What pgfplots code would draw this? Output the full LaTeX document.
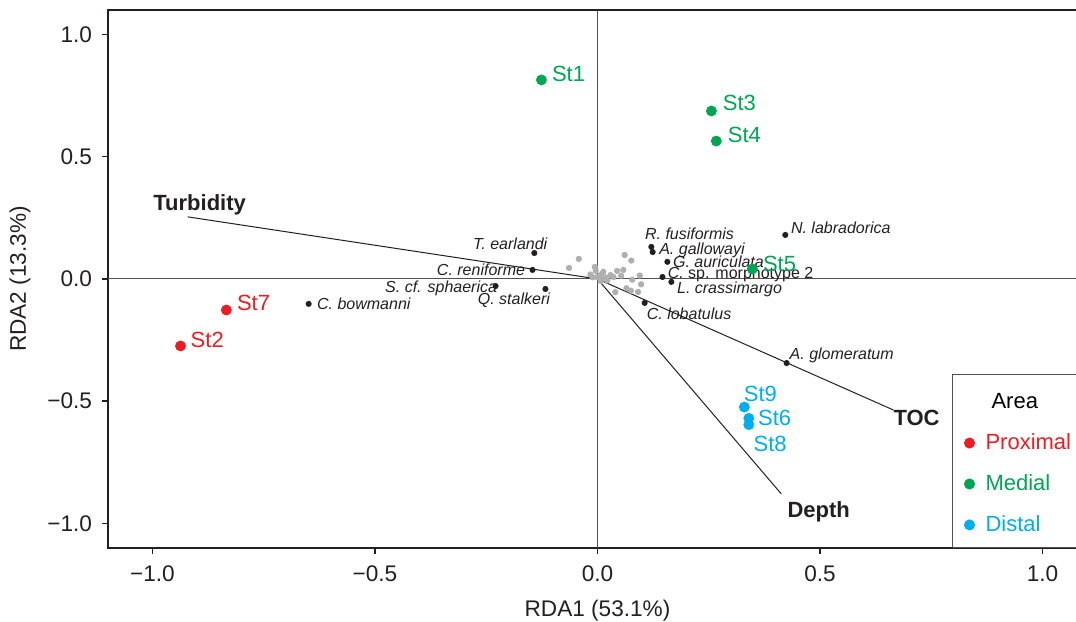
\documentclass[border=0pt]{standalone}
\usepackage{fontspec}
\setmainfont{Liberation Sans}
\usepackage{pgfplots}
\pgfplotsset{compat=1.18}
\definecolor{cRed}{RGB}{237,28,36}
\definecolor{cGreen}{RGB}{0,166,81}
\definecolor{cBlue}{RGB}{0,174,239}
\definecolor{cDark}{RGB}{35,31,32}
\definecolor{cGray}{RGB}{175,175,175}
\definecolor{cLine}{RGB}{80,80,80}
\tikzset{
  stl/.style={font=\fontsize{11}{13}\selectfont, inner sep=0pt, text height=7.9pt, text depth=0pt, anchor=west},
  spl/.style={font=\fontsize{8}{9.6}\selectfont\itshape, inner sep=0pt, text height=5.75pt, text depth=0pt, text=cDark},
  vecl/.style={font=\fontsize{11}{13}\selectfont\bfseries, inner sep=0pt, text height=7.9pt, text depth=0pt, text=cDark, anchor=center},
}
\begin{document}
\begin{tikzpicture}
\begin{axis}[
  name=ax,
  scale only axis,
  width=489.5pt, height=268.95pt,
  xmin=-1.1, xmax=1.1, ymin=-1.1, ymax=1.1,
  xtick={-1,-0.5,0,0.5,1}, ytick={-1,-0.5,0,0.5,1},
  xticklabels={−1.0,−0.5,0.0,0.5,1.0},
  yticklabels={−1.0,−0.5,0.0,0.5,1.0},
  xtick pos=bottom, ytick pos=left,
  tick align=outside, major tick length=3pt,
  tick style={cDark, line width=0.75pt},
  axis line style={cDark, line width=0.75pt},
  ticklabel style={font=\fontsize{11.3}{13}\selectfont, text=cDark},
  xticklabel shift=2.5pt, yticklabel shift=1.5pt,
  xlabel={RDA1 (53.1\%)}, ylabel={RDA2 (13.3\%)},
  xlabel shift=2pt, ylabel shift=1.5pt,
  label style={font=\fontsize{11.3}{13}\selectfont, text=cDark},
  clip=false,
  legend cell align=left,
  legend style={at={(axis cs:0.7955,-1.1)}, anchor=south west, draw=cLine, line width=0.5pt, fill=white,
    font=\fontsize{11}{13}\selectfont, row sep=7pt, inner xsep=6pt, inner ysep=4.5pt},
  legend image code/.code={\fill[#1] (2.5pt,0pt) circle (2.5pt); \path[draw=none, fill=none] (8.5pt,0pt) circle (0.01pt);},
]
% zero lines
\addplot[cLine, line width=0.5pt, forget plot] coordinates {(-1.1,0) (1.1,0)};
\addplot[cLine, line width=0.5pt, forget plot] coordinates {(0,-1.1) (0,1.1)};
% gray species points
\addplot[only marks, mark=*, mark size=1.35pt, cGray, forget plot] coordinates {
(-0.042,0.082) (-0.064,0.045) (-0.006,0.049) (-0.016,0.018) (0.013,0.029)
(0.007,0.016) (0.018,0.006) (0.044,0.033) (0.058,0.037) (0.061,0.098)
(0.076,0.075) (0.036,0.008) (0.053,0.013) (0.078,-0.003) (0.095,0.014)
(0.098,-0.022) (0.065,-0.038) (0.075,-0.048) (0.091,-0.053) (0.040,-0.054)
(0.000,0.008) (0.022,-0.006) (-0.011,0.007) (0.029,0.016) (0.007,-0.008)
(-0.004,0.033)
};
% environmental vectors
\addplot[cDark, line width=0.5pt, forget plot] coordinates {(0,0) (-0.921,0.254)};
\addplot[cDark, line width=0.5pt, forget plot] coordinates {(0,0) (0.665,-0.536)};
\addplot[cDark, line width=0.5pt, forget plot] coordinates {(0,0) (0.413,-0.879)};
% labelled species
\addplot[only marks, mark=*, mark size=1.3pt, cDark, forget plot] coordinates {
(-0.142,0.106) (-0.146,0.037) (-0.229,-0.029) (-0.117,-0.041) (-0.649,-0.102)
(0.121,0.131) (0.124,0.110) (0.157,0.070) (0.146,0.008) (0.166,-0.012)
(0.106,-0.098) (0.422,0.180) (0.425,-0.344)
};
% stations
\addplot[only marks, mark=*, mark size=2.5pt, cRed, forget plot] coordinates {(-0.834,-0.127) (-0.937,-0.274)};
\addplot[only marks, mark=*, mark size=2.5pt, cGreen, forget plot] coordinates {(-0.126,0.814) (0.256,0.687) (0.267,0.564) (0.348,0.041)};
\addplot[only marks, mark=*, mark size=2.5pt, cBlue, forget plot] coordinates {(0.330,-0.524) (0.340,-0.570) (0.340,-0.596)};
% species labels
\node[spl, anchor=east] at (axis cs:-0.112,0.143) {T. earlandi};
\node[spl, anchor=east] at (axis cs:-0.162,0.038) {C. reniforme};
\node[spl, anchor=east] at (axis cs:-0.225,-0.030) {S. cf. sphaerica};
\node[spl, anchor=east] at (axis cs:-0.106,-0.082) {Q. stalkeri};
\node[spl, anchor=west] at (axis cs:-0.631,-0.102) {C. bowmanni};
\node[spl, anchor=west] at (axis cs:0.106,0.184) {R. fusiformis};
\node[spl, anchor=west] at (axis cs:0.138,0.123) {A. gallowayi};
\node[spl, anchor=west] at (axis cs:0.169,0.071) {G. auriculata};
\node[spl, anchor=west] at (axis cs:0.157,0.027) {C.\upshape\ sp. morphotype 2};
\node[spl, anchor=west] at (axis cs:0.178,-0.038) {L. crassimargo};
\node[spl, anchor=west] at (axis cs:0.110,-0.143) {C. lobatulus};
\node[spl, anchor=west] at (axis cs:0.434,0.211) {N. labradorica};
\node[spl, anchor=west] at (axis cs:0.431,-0.307) {A. glomeratum};
% vector labels
\node[vecl] at (axis cs:-0.894,0.311) {Turbidity};
\node[vecl] at (axis cs:0.717,-0.569) {TOC};
\node[vecl] at (axis cs:0.497,-0.945) {Depth};
% station labels
\node[stl, text=cGreen] at (axis cs:-0.103,0.838) {St1};
\node[stl, text=cGreen] at (axis cs:0.281,0.720) {St3};
\node[stl, text=cGreen] at (axis cs:0.292,0.589) {St4};
\node[stl, text=cGreen] at (axis cs:0.371,0.061) {St5};
\node[stl, text=cRed] at (axis cs:-0.811,-0.098) {St7};
\node[stl, text=cRed] at (axis cs:-0.915,-0.249) {St2};
\node[stl, text=cBlue] at (axis cs:0.328,-0.470) {St9};
\node[stl, text=cBlue] at (axis cs:0.360,-0.566) {St6};
\node[stl, text=cBlue] at (axis cs:0.350,-0.675) {St8};
% legend
\addlegendimage{empty legend}\addlegendentry{\hspace{3pt}\rule{0pt}{10.5pt}Area}
\addlegendimage{cRed}\addlegendentry{\textcolor{cRed}{Proximal}\hspace{8pt}}
\addlegendimage{cGreen}\addlegendentry{\textcolor{cGreen}{Medial}}
\addlegendimage{cBlue}\addlegendentry{\textcolor{cBlue}{Distal}}
\end{axis}
\pgfresetboundingbox
\path ([xshift=-54pt,yshift=-37pt]ax.south west) rectangle ([xshift=484pt,yshift=5pt]ax.north west);
\end{tikzpicture}
\end{document}
